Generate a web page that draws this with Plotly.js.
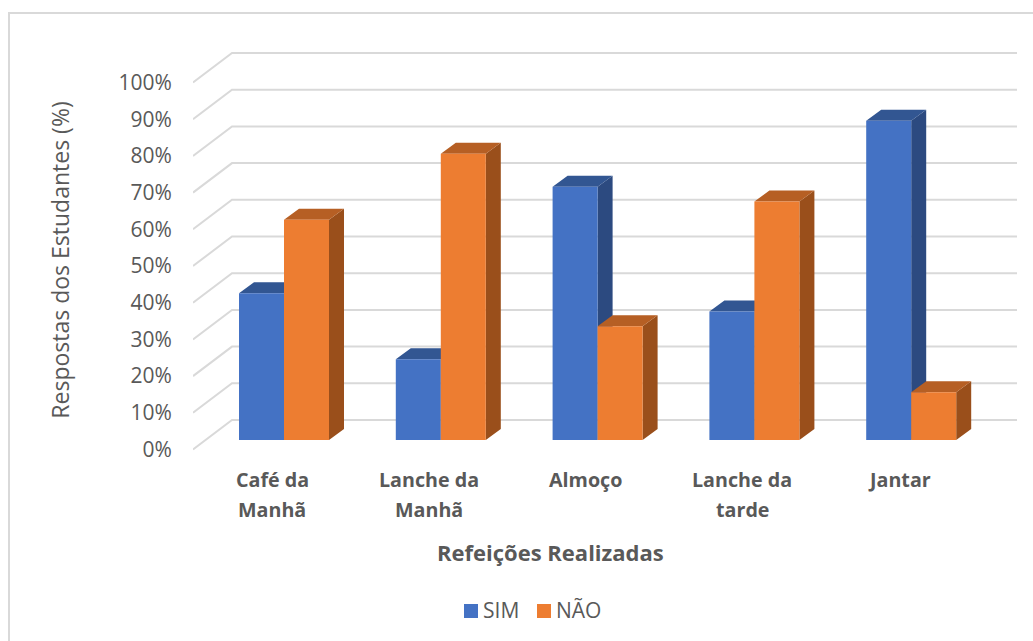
<!DOCTYPE html>
<html>
<head>
<meta charset="utf-8">
<script src="https://cdn.plot.ly/plotly-3.0.1.min.js"></script>
<style>html,body{margin:0;padding:0;background:#fff}#chart{width:1033px;height:641px}</style>
</head>
<body>
<div id="chart"></div>
<script>
// Meals reported by students: share answering yes / no per meal
const categoryLines = [['Café da','Manhã'],['Lanche da','Manhã'],['Almoço'],['Lanche da','tarde'],['Jantar']];
const simValues = [40, 22, 69, 35, 87];
const naoValues = [60, 78, 31, 65, 13];
const percentTicks = [0,10,20,30,40,50,60,70,80,90,100];

const FONT = '"Open Sans", "Noto Sans", sans-serif';
const TEXT = '#595959';
const GRID = '#d9d9d9';
const colors = {
  sim: {front:'#4472C4', side:'#2C4A80', top:'#325692'},
  nao: {front:'#ED7D31', side:'#9A4F1B', top:'#B65F24'}
};

// Plot box in pixels and the scales that follow from it
const box = {left:193, right:1017, top:45, bottom:475};
const pxPerCategory = 156.8, pxPerPercent = 3.67;
const firstGroupPx = 284, frontZeroPx = 449.5, barZeroPx = 440;
const xRange = [(box.left-firstGroupPx)/pxPerCategory, (box.right-firstGroupPx)/pxPerCategory];
const yRange = [(frontZeroPx-box.bottom)/pxPerPercent, (frontZeroPx-box.top)/pxPerPercent];
const barShift = (frontZeroPx-barZeroPx)/pxPerPercent;
const barRange = [yRange[0]-barShift, yRange[1]-barShift];

// Perspective offsets of the 3-D look, in axis units
const barWidth = 45/pxPerCategory;
const barDepthX = 15/pxPerCategory, barDepthY = 11/pxPerPercent;
const wallDepthX = 39/pxPerCategory, wallDepthY = 29.5/pxPerPercent;

const paperX = px => (px-box.left)/(box.right-box.left);
const paperY = px => (box.bottom-px)/(box.bottom-box.top);

// Floor-to-wall diagonals and wall gridlines
const gridX = [], gridY = [];
percentTicks.forEach(t => {
  gridX.push(xRange[0], xRange[0]+wallDepthX, xRange[1], null);
  gridY.push(t, t+wallDepthY, t+wallDepthY, null);
});

// Right side and top faces for one series of boxes
function faces(values, leftOf) {
  const side = {x:[], y:[]}, top = {x:[], y:[]};
  values.forEach((v,i) => {
    const l = leftOf(i), r = l+barWidth;
    side.x.push(r, r+barDepthX, r+barDepthX, r, r, null);
    side.y.push(0, barDepthY, v+barDepthY, v, 0, null);
    top.x.push(l, l+barDepthX, r+barDepthX, r, l, null);
    top.y.push(v, v+barDepthY, v+barDepthY, v, v, null);
  });
  return {side, top};
}
const facePoly = (p, color) => ({
  x:p.x, y:p.y, type:'scatter', mode:'lines', fill:'toself', fillcolor:color,
  line:{width:0, color:color}, yaxis:'y2', showlegend:false, hoverinfo:'skip'
});
const simFaces = faces(simValues, i => i-barWidth);
const naoFaces = faces(naoValues, i => i);
const groupIndex = simValues.map((_,i) => i);

const data = [
  {x:gridX, y:gridY, type:'scatter', mode:'lines', line:{color:GRID, width:2},
   showlegend:false, hoverinfo:'skip'},
  facePoly(simFaces.side, colors.sim.side),
  facePoly(simFaces.top, colors.sim.top),
  facePoly(naoFaces.side, colors.nao.side),
  facePoly(naoFaces.top, colors.nao.top),
  {x:groupIndex, y:simValues, name:'SIM', type:'bar', yaxis:'y3', marker:{color:colors.sim.front}, showlegend:false},
  {x:groupIndex, y:naoValues, name:'NÃO', type:'bar', yaxis:'y3', marker:{color:colors.nao.front}, showlegend:false}
];

// Category names are set line by line for their wide leading
const annotations = [];
categoryLines.forEach((lines,i) => lines.forEach((text,n) => annotations.push({
  text:text, xref:'x', x:i-12/pxPerCategory, yref:'paper', y:paperY(479+30*n),
  showarrow:false, xanchor:'center', yanchor:'middle',
  font:{family:FONT, size:19.7, color:TEXT, weight:700}
})));
annotations.push({
  text:'Refeições Realizadas', xref:'paper', x:paperX(550), yref:'paper', y:paperY(551.5),
  showarrow:false, xanchor:'center', yanchor:'middle',
  font:{family:FONT, size:22, color:TEXT, weight:700}
});

// Key below the chart: tight swatch-to-label gap
const keyEntries = [
  {name:'SIM', color:colors.sim.front, swatchPx:464, labelPx:482},
  {name:'NÃO', color:colors.nao.front, swatchPx:537, labelPx:555}
];
const shapes = [{type:'rect', xref:'paper', yref:'paper', x0:paperX(9), x1:paperX(1040),
  y0:paperY(650), y1:paperY(13), line:{color:GRID, width:2}, layer:'below'}];
keyEntries.forEach(k => {
  shapes.push({type:'rect', xref:'paper', yref:'paper', x0:paperX(k.swatchPx), x1:paperX(k.swatchPx+14),
    y0:paperY(618), y1:paperY(604), fillcolor:k.color, line:{width:0}});
  annotations.push({text:k.name, xref:'paper', x:paperX(k.labelPx), yref:'paper', y:paperY(610),
    showarrow:false, xanchor:'left', yanchor:'middle', xshift:-1,
    font:{family:FONT, size:21, color:TEXT}});
});

const layout = {
  width:1033, height:641, autosize:false, showlegend:false,
  margin:{l:box.left, r:1033-box.right, t:box.top, b:641-box.bottom, pad:0},
  paper_bgcolor:'#fff', plot_bgcolor:'rgba(0,0,0,0)',
  barmode:'group', bargap:1-2*barWidth, bargroupgap:0,
  xaxis:{range:xRange, showgrid:false, zeroline:false, showline:false, showticklabels:false, ticks:''},
  yaxis:{range:yRange, tickvals:percentTicks, ticktext:percentTicks.map(t => t+'%'),
    showgrid:false, zeroline:false, showline:false, ticks:'outside', ticklen:16,
    tickcolor:'rgba(0,0,0,0)', tickfont:{family:FONT, size:21, color:TEXT},
    title:{text:'Respostas dos Estudantes (%)', standoff:42, font:{family:FONT, size:23, color:TEXT}}},
  yaxis2:{range:barRange, overlaying:'y', visible:false},
  yaxis3:{range:barRange, overlaying:'y', visible:false},
  annotations:annotations,
  shapes:shapes
};

Plotly.newPlot('chart', data, layout, {displayModeBar:false, staticPlot:true});
</script>
</body>
</html>
